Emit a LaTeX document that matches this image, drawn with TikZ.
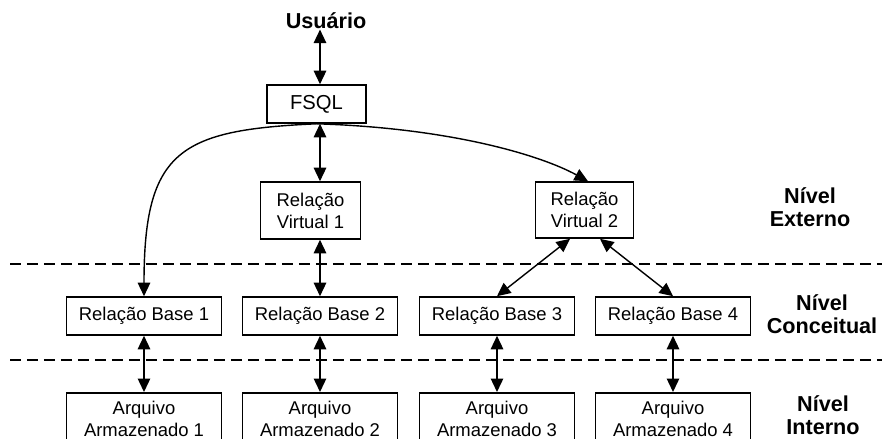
\documentclass[tikz,border=0pt]{standalone}
\usepackage{fontspec}
\setmainfont{Liberation Sans}
\usepackage{tikz}
\usetikzlibrary{calc}
\usetikzlibrary{arrows.meta}

\begin{document}
\begin{tikzpicture}[x=0.02cm, y=-0.02cm,
	caixa/.style={draw, line width=0.9pt, minimum width=3.1cm, minimum height=0.76cm, inner sep=0pt, align=center, font=\fontsize{10.5}{12.5}\selectfont},
	rotulo/.style={align=center, inner sep=0pt, font=\fontsize{12.3}{13}\selectfont\bfseries},
	seta/.style={line width=0.8pt, arrows={Triangle[length=2.7mm, width=2.5mm]-Triangle[length=2.7mm, width=2.5mm]}},
	setaf/.style={line width=0.8pt, arrows={-Triangle[length=2.7mm, width=2.5mm]}},
	tracejado/.style={line width=0.8pt, dash pattern=on 2.2mm off 1.2mm}]
	\useasboundingbox (0,0) rectangle (882,439);
	\clip (0,0) rectangle (882,439);

	% usuario e FSQL
	\node [rotulo, anchor=base] (usuario) at (326,29) {Usuário};
	\node [caixa, minimum width=1.98cm, font=\fontsize{11.5}{13}\selectfont] (fsql) at (316.5,104) {FSQL};

	% nivel externo
	\node [caixa, minimum width=2cm, minimum height=1.14cm] (rv1) at (310.5,210.5) {Relação\\Virtual 1};
	\node [caixa, minimum width=1.96cm, minimum height=1.12cm] (rv2) at (584.5,210) {Relação\\Virtual 2};

	% nivel conceitual
	\node [caixa] (base1) at (144,316) {Relação Base 1};
	\node [caixa] (base2) at (320,316) {Relação Base 2};
	\node [caixa] (base3) at (497,316) {Relação Base 3};
	\node [caixa] (base4) at (673,316) {Relação Base 4};

	% nivel interno (caixas cortadas embaixo)
	\foreach \i/\x in {1/144, 2/320, 3/497, 4/673}
		\node [caixa, anchor=north, minimum height=1.04cm] (arq\i) at (\x,392) {Arquivo\\Armazenado \i};

	% rotulos dos niveis
	\node [rotulo] (nivelext) at (810,207) {Nível\\Externo};
	\node [rotulo] (nivelcon) at (822,314) {Nível\\Conceitual};
	\node [rotulo] (nivelint) at (823,415) {Nível\\Interno};

	% linhas tracejadas
	\draw [tracejado] (10,264) -- (882,264);
	\draw [tracejado] (10,360) -- (882,360);

	% setas
	\draw [seta] (usuario.south -| base2) -- (fsql.north -| base2);
	\draw [seta] (fsql.south -| base2) -- (rv1.north -| base2);
	\draw [seta] (rv1.south -| base2) -- (base2.north);
	\draw [setaf] (fsql.south) .. controls (180,130) and (144,150) .. (base1.north);
	\draw [setaf] (fsql.south) .. controls (450,128) and (540,155) .. ([xshift=0.07cm]rv2.north);
	\draw [seta] ([xshift=-0.29cm]rv2.south) -- (base3.north);
	\draw [seta] ([xshift=0.31cm]rv2.south) -- (base4.north);
	\foreach \i in {1,...,4}
		\draw [seta] (base\i.south) -- (arq\i.north);

\end{tikzpicture}
\end{document}
